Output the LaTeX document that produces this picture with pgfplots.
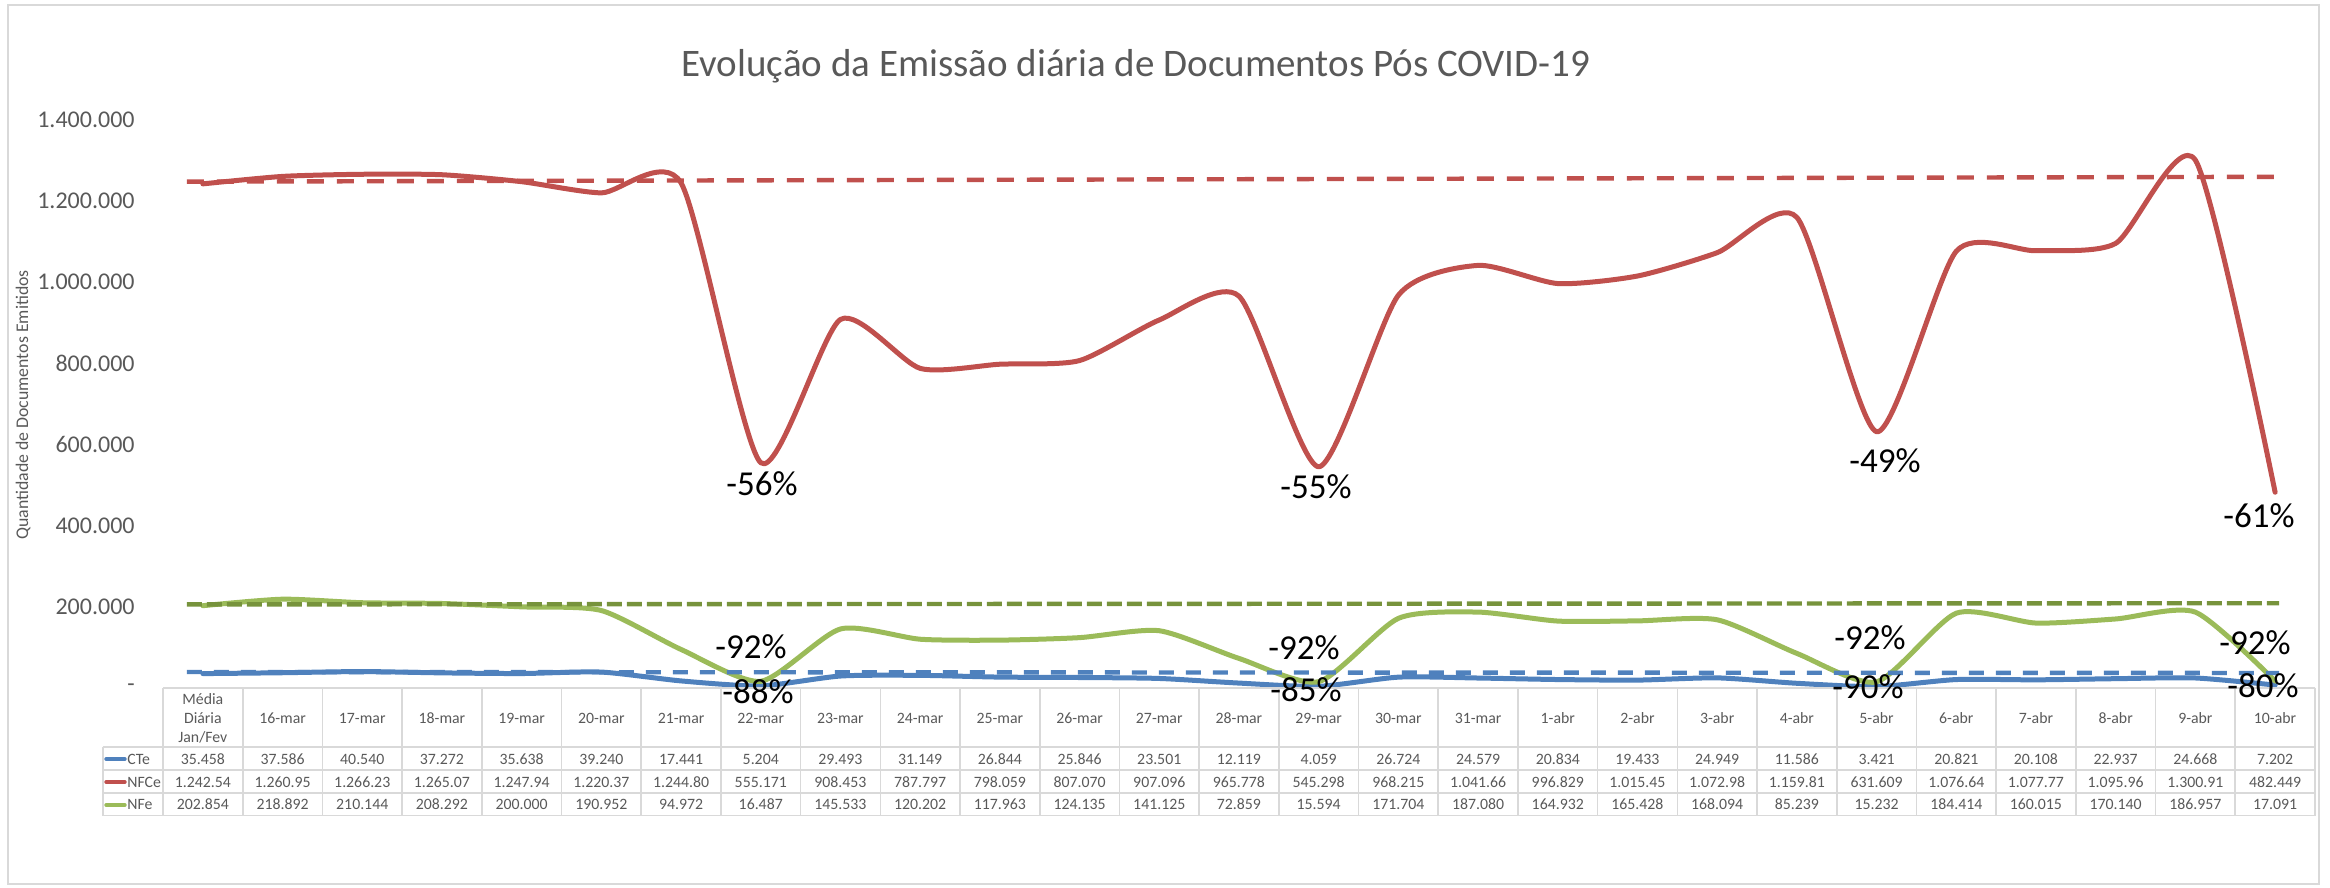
\documentclass[border=0pt]{standalone}
\usepackage{pgfplots}
\pgfplotsset{compat=1.18}
\usepackage{fontspec}
\setmainfont{Carlito}

\definecolor{cte}{HTML}{4F81BD}
\definecolor{nfce}{HTML}{C0504D}
\definecolor{nfe}{HTML}{9BBB59}
\definecolor{nfetrend}{HTML}{77933C}
\definecolor{txt}{HTML}{595959}
\definecolor{gridc}{HTML}{D9D9D9}

% daily issued documents (index 0 = Jan/Feb daily mean)
\pgfplotstableread{
i  cte   nfce    nfe
0  35458 1242540 202854
1  37586 1260950 218892
2  40540 1266230 210144
3  37272 1265070 208292
4  35638 1247940 200000
5  39240 1220370 190952
6  17441 1244800 94972
7  5204  555171  16487
8  29493 908453  145533
9  31149 787797  120202
10 26844 798059  117963
11 25846 807070  124135
12 23501 907096  141125
13 12119 965778  72859
14 4059  545298  15594
15 26724 968215  171704
16 24579 1041660 187080
17 20834 996829  164932
18 19433 1015450 165428
19 24949 1072980 168094
20 11586 1159810 85239
21 3421  631609  15232
22 20821 1076640 184414
23 20108 1077770 160015
24 22937 1095960 170140
25 24668 1300910 186957
26 7202  482449  17091
}\data

\newcommand{\tabfont}{\fontsize{7.9}{9.5}\selectfont}
\newcommand{\pctfont}{\fontsize{17.5}{18}\selectfont}

\begin{document}
\begin{tikzpicture}
\begin{axis}[
  scale only axis, width=1076pt, height=284pt,
  xmin=-0.5, xmax=26.5, ymin=0, ymax=1400000,
  clip=false,
  axis line style={draw=none},
  xtick=\empty,
  ytick={0,200000,400000,600000,800000,1000000,1200000,1400000},
  yticklabels={{-\hspace{4.8pt}},200.000,400.000,600.000,800.000,1.000.000,1.200.000,1.400.000},
  major tick length=0pt,
  yticklabel style={font=\fontsize{12}{12}\selectfont, text=txt, inner sep=0pt},
  yticklabel shift=14pt,
  scaled y ticks=false,
]
\addplot[cte, line width=2.5pt, smooth, tension=0.4, line cap=round, line join=round] table[x=i, y=cte] {\data};
\addplot[nfce, line width=2.5pt, smooth, tension=0.4, line cap=round, line join=round] table[x=i, y=nfce] {\data};
\addplot[nfe, line width=2.5pt, smooth, tension=0.4, line cap=round, line join=round] table[x=i, y=nfe] {\data};
% trend lines
\addplot[cte, line width=2.2pt, dash pattern=on 7.5pt off 6pt] coordinates {(-0.2,39400) (26.05,37000)};
\addplot[nfce, line width=2.2pt, dash pattern=on 8.5pt off 6.5pt] coordinates {(-0.2,1248000) (26.05,1260000)};
\addplot[nfetrend, line width=2.2pt, dash pattern=on 7.5pt off 2.5pt] coordinates {(-0.2,206000) (26.05,209000)};
\end{axis}

% everything below in reference pixel coordinates (y downwards)
\begin{scope}[x=0.5pt, y=-0.5pt, shift={(-81.5pt,344pt)}]
  \draw[gridc, line width=1pt] (8,5) rectangle (2319,884);
  \node[anchor=base, text=txt, font=\fontsize{19.5}{20}\selectfont] at (1136,77)
    {Evolução da Emissão diária de Documentos Pós COVID-19};
  \node[rotate=90, text=txt, font=\fontsize{8.9}{9}\selectfont] at (23,405)
    {Quantidade de Documentos Emitidos};

  % data table
  \draw[gridc, line width=1pt] (163,687.7) -- (2315,687.7);
  \foreach \yy in {747,770,793,815.7}
    \draw[gridc, line width=0.8pt] (103,\yy) -- (2315,\yy);
  \draw[gridc, line width=0.8pt] (103,747) -- (103,815.7);
  \foreach \k in {0,...,27}
    \draw[gridc, line width=0.8pt] ({163+79.7*\k},687.7) -- ({163+79.7*\k},815.7);

  \begin{scope}[every node/.style={font=\tabfont, text=txt, anchor=base, inner sep=0pt}]
    \node at (202.85,704.3) {Média};
    \node at (202.85,723.3) {Diária};
    \node at (202.85,742.3) {Jan/Fev};
    \foreach \s [count=\k from 1] in {16-mar,17-mar,18-mar,19-mar,20-mar,21-mar,22-mar,23-mar,24-mar,25-mar,26-mar,27-mar,28-mar,29-mar,30-mar,31-mar,1-abr,2-abr,3-abr,4-abr,5-abr,6-abr,7-abr,8-abr,9-abr,10-abr}
      \node at ({202.85+79.7*\k},723.3) {\s};
    \foreach \s [count=\k from 0] in {35.458,37.586,40.540,37.272,35.638,39.240,17.441,5.204,29.493,31.149,26.844,25.846,23.501,12.119,4.059,26.724,24.579,20.834,19.433,24.949,11.586,3.421,20.821,20.108,22.937,24.668,7.202}
      \node at ({202.85+79.7*\k},764.3) {\s};
    \foreach \s [count=\k from 0] in {1.242.54,1.260.95,1.266.23,1.265.07,1.247.94,1.220.37,1.244.80,555.171,908.453,787.797,798.059,807.070,907.096,965.778,545.298,968.215,1.041.66,996.829,1.015.45,1.072.98,1.159.81,631.609,1.076.64,1.077.77,1.095.96,1.300.91,482.449}
      \node at ({202.85+79.7*\k},787.3) {\s};
    \foreach \s [count=\k from 0] in {202.854,218.892,210.144,208.292,200.000,190.952,94.972,16.487,145.533,120.202,117.963,124.135,141.125,72.859,15.594,171.704,187.080,164.932,165.428,168.094,85.239,15.232,184.414,160.015,170.140,186.957,17.091}
      \node at ({202.85+79.7*\k},810.0) {\s};
    \node[anchor=base west] at (127,764.3) {CTe};
    \node[anchor=base west] at (127,787.3) {NFCe};
    \node[anchor=base west] at (127,810.0) {NFe};
  \end{scope}
  \draw[cte, line width=1.7pt, line cap=round] (106,759) -- (125,759);
  \draw[nfce, line width=1.7pt, line cap=round] (106,782) -- (125,782);
  \draw[nfe, line width=1.7pt, line cap=round] (106,805) -- (125,805);

  % percentage labels
  \begin{scope}[every node/.style={font=\pctfont, text=black, inner sep=0pt}]
    \node at (762,484) {-56\%};
    \node at (1316,487) {-55\%};
    \node at (1885,461) {-49\%};
    \node at (2259,516) {-61\%};
    \node at (751,647) {-92\%};
    \node at (1304,648) {-92\%};
    \node at (1870,638) {-92\%};
    \node at (2255,643) {-92\%};
    \node at (758,692) {-88\%};
    \node at (1306,690) {-85\%};
    \node at (1868,687) {-90\%};
    \node at (2263,686) {-80\%};
  \end{scope}

  \pgfresetboundingbox
  \path[use as bounding box] (0,0) rectangle (2330,888);
\end{scope}
\end{tikzpicture}
\end{document}
